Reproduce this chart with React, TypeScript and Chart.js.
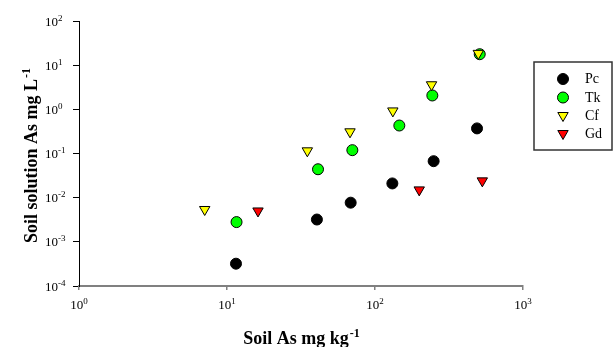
import React, { useEffect, useRef } from "react";
import { Chart, registerables } from "chart.js";

Chart.register(...registerables);

const seriesNames = ["Pc", "Tk", "Cf", "Gd"];
const pcX = [11.5, 40.5, 68.5, 131, 249, 489];
const pcY = [3.2e-4, 3.2e-3, 7.7e-3, 0.021, 0.067, 0.37];
const tkX = [11.6, 41.2, 70.3, 146, 244, 510];
const tkY = [2.8e-3, 0.044, 0.119, 0.43, 2.06, 17.7];
const cfX = [7.07, 34.9, 67.8, 132, 241, 499];
const cfY = [5.4e-3, 0.115, 0.31, 0.92, 3.6, 18.5];
const gdX = [16.2, 199, 531];
const gdY = [5.0e-3, 0.015, 0.024];

const xTickValues = [1, 10, 100, 1000];
const yTickValues = [1e-4, 1e-3, 1e-2, 1e-1, 1, 10, 100];
const xTitle = ["Soil As mg kg", "-1"];
const yTitle = ["Soil solution As mg L", "-1"];

const SERIF = "'Liberation Serif', 'Times New Roman', serif";

const pts = (xs: number[], ys: number[]) => xs.map((x, i) => ({ x, y: ys[i] }));

const expOf = (v: number) => String(Math.round(Math.log10(v)));

function drawMarker(ctx: CanvasRenderingContext2D, o: any, x: number, y: number) {
  ctx.beginPath();
  if (o.pointStyle === "triangle") {
    let rad = (o.rotation * Math.PI) / 180;
    const r = o.radius;
    ctx.moveTo(x + Math.sin(rad) * r, y - Math.cos(rad) * r);
    rad += (2 * Math.PI) / 3;
    ctx.lineTo(x + Math.sin(rad) * r, y - Math.cos(rad) * r);
    rad += (2 * Math.PI) / 3;
    ctx.lineTo(x + Math.sin(rad) * r, y - Math.cos(rad) * r);
    ctx.closePath();
  } else {
    ctx.arc(x, y, o.radius, 0, Math.PI * 2);
    ctx.closePath();
  }
  ctx.fill();
  ctx.stroke();
}

const labelsPlugin = {
  id: "customLabels",
  afterDraw(chart: any) {
    const ctx = chart.ctx as CanvasRenderingContext2D;
    const xs = chart.scales.x;
    const ys = chart.scales.y;
    ctx.save();
    ctx.fillStyle = "#000";
    ctx.textAlign = "left";
    ctx.textBaseline = "alphabetic";
    // y tick labels
    for (const v of yTickValues) {
      const py = ys.getPixelForValue(v);
      ctx.font = `13px ${SERIF}`;
      const bw = ctx.measureText("10").width;
      const by = py + 4.5;
      ctx.fillText("10", 45, by);
      ctx.font = `9px ${SERIF}`;
      ctx.fillText(expOf(v), 45 + bw, by - 5);
    }
    // x tick labels
    for (const v of xTickValues) {
      const px = xs.getPixelForValue(v);
      ctx.font = `13px ${SERIF}`;
      const bw = ctx.measureText("10").width;
      ctx.font = `9px ${SERIF}`;
      const ew = ctx.measureText(expOf(v)).width;
      const start = px - (bw + ew) / 2;
      const by = 309;
      ctx.font = `13px ${SERIF}`;
      ctx.fillText("10", start, by);
      ctx.font = `9px ${SERIF}`;
      ctx.fillText(expOf(v), start + bw, by - 5);
    }
    // x title
    {
      ctx.font = `bold 18px ${SERIF}`;
      const mw = ctx.measureText(xTitle[0]).width;
      ctx.font = `bold 12px ${SERIF}`;
      const sw = ctx.measureText(xTitle[1]).width;
      const cx = (chart.chartArea.left + chart.chartArea.right) / 2;
      const start = cx - (mw + sw) / 2;
      const by = 344;
      ctx.font = `bold 18px ${SERIF}`;
      ctx.fillText(xTitle[0], start, by);
      ctx.font = `bold 12px ${SERIF}`;
      ctx.fillText(xTitle[1], start + mw + 1, by - 7);
    }
    // y title
    {
      ctx.save();
      ctx.translate(37, 156);
      ctx.rotate(-Math.PI / 2);
      ctx.font = `bold 18px ${SERIF}`;
      const mw = ctx.measureText(yTitle[0]).width;
      ctx.font = `bold 12px ${SERIF}`;
      const sw = ctx.measureText(yTitle[1]).width;
      const start = -(mw + sw) / 2;
      ctx.font = `bold 18px ${SERIF}`;
      ctx.fillText(yTitle[0], start, 0);
      ctx.font = `bold 12px ${SERIF}`;
      ctx.fillText(yTitle[1], start + mw + 1, -7);
      ctx.restore();
    }
    // legend
    {
      const lx = 534, ly = 62, lw = 78, lh = 88;
      ctx.strokeStyle = "#333";
      ctx.lineWidth = 1.5;
      ctx.strokeRect(lx, ly, lw, lh);
      const rows = [79, 97.5, 115.5, 133.5];
      chart.data.datasets.forEach((ds: any, i: number) => {
        const y = rows[i];
        const opts = {
          pointStyle: ds.pointStyle,
          radius: ds.pointRadius,
          rotation: ds.rotation || 0,
        };
        ctx.fillStyle = ds.backgroundColor;
        ctx.strokeStyle = ds.borderColor;
        ctx.lineWidth = ds.borderWidth;
        drawMarker(ctx, opts, 563, y);
        ctx.fillStyle = "#000";
        ctx.font = `14px ${SERIF}`;
        ctx.textAlign = "left";
        ctx.textBaseline = "middle";
        ctx.fillText(ds.label, 585, y + 0.5);
      });
    }
    ctx.restore();
  },
};

export default function App() {
  const ref = useRef<HTMLCanvasElement | null>(null);
  useEffect(() => {
    document.body.style.margin = "0";
    if (!ref.current) return;
    const chart = new Chart(ref.current, {
      type: "scatter",
      data: {
        datasets: [
          {
            label: seriesNames[0],
            data: pts(pcX, pcY),
            pointStyle: "circle",
            pointRadius: 5.5,
            backgroundColor: "#000000",
            borderColor: "#000000",
            borderWidth: 1,
            order: 1,
          } as any,
          {
            label: seriesNames[1],
            data: pts(tkX, tkY),
            pointStyle: "circle",
            pointRadius: 5.5,
            backgroundColor: "#00ff00",
            borderColor: "#000000",
            borderWidth: 1,
            order: 1,
          },
          {
            label: seriesNames[2],
            data: pts(cfX, cfY),
            pointStyle: "triangle",
            rotation: 180,
            pointRadius: 6,
            backgroundColor: "#ffff00",
            borderColor: "#000000",
            borderWidth: 1,
            order: 0,
          },
          {
            label: seriesNames[3],
            data: pts(gdX, gdY),
            pointStyle: "triangle",
            rotation: 180,
            pointRadius: 6,
            backgroundColor: "#ff0000",
            borderColor: "#000000",
            borderWidth: 1,
            order: 0,
          },
        ],
      },
      options: {
        animation: false,
        responsive: false,
        devicePixelRatio: 1,
        layout: { padding: { left: 0, top: 21, right: 91, bottom: 0 } },
        plugins: {
          legend: { display: false },
          tooltip: { enabled: false },
        },
        scales: {
          x: {
            type: "logarithmic",
            min: 1,
            max: 1000,
            afterBuildTicks: (s: any) => {
              s.ticks = xTickValues.map((v) => ({ value: v }));
            },
            afterFit: (s: any) => {
              s.height = 61;
            },
            ticks: { display: false },
            grid: {
              drawOnChartArea: false,
              drawTicks: true,
              tickLength: 4,
              color: "#808080",
              lineWidth: 1.5,
            },
            border: { color: "#808080", width: 2 },
          },
          y: {
            type: "logarithmic",
            min: 1e-4,
            max: 100,
            afterBuildTicks: (s: any) => {
              s.ticks = yTickValues.map((v) => ({ value: v }));
            },
            afterFit: (s: any) => {
              s.width = 79;
            },
            ticks: { display: false },
            grid: {
              drawOnChartArea: false,
              drawTicks: true,
              tickLength: 6,
              color: "#000000",
              lineWidth: 1,
            },
            border: { color: "#000000", width: 1 },
          },
        },
      },
      plugins: [labelsPlugin],
    });
    return () => chart.destroy();
  }, []);
  return (
    <div style={{ width: 614, height: 347, background: "#fff" }}>
      <canvas ref={ref} width={614} height={347} style={{ display: "block" }} />
    </div>
  );
}
